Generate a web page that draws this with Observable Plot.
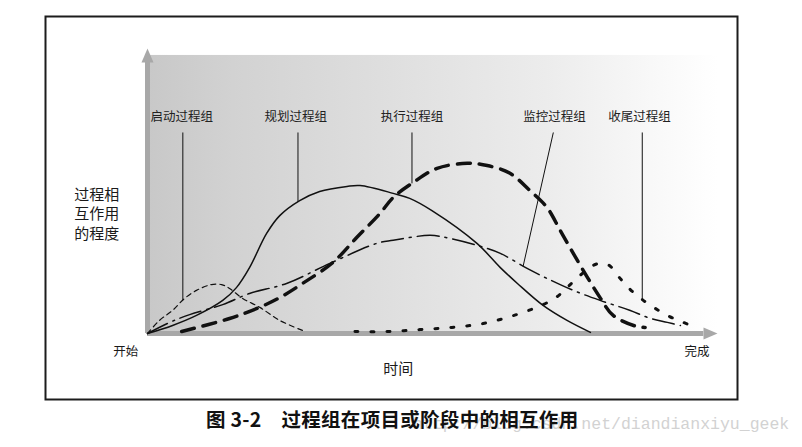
<!DOCTYPE html>
<html>
<head>
<meta charset="utf-8">
<script src="https://cdn.jsdelivr.net/npm/d3@7"></script>
<script src="https://cdn.jsdelivr.net/npm/@observablehq/plot@0.6"></script>
<style>
html, body { margin: 0; padding: 0; background: #fff; }
#wrap { position: relative; width: 802px; height: 447px; overflow: hidden; font-family: "Noto Sans CJK SC", "Noto Sans", sans-serif; }
#chart svg { display: block; }
#caption { position: absolute; left: 206px; top: 407px; font-size: 19.5px; letter-spacing: 0.3px; line-height: 24px; font-weight: bold; color: #111; white-space: pre; z-index: 2; }
#watermark { position: absolute; left: 413px; top: 417px; font-family: "Liberation Mono", monospace; font-size: 16.5px; line-height: 16.5px; color: #d2d2d2; white-space: pre; z-index: 1; }
</style>
</head>
<body>
<div id="wrap">
  <div id="chart"></div>
  <div id="watermark">http://blog.csdn.net/diandianxiyu_geek</div>
  <div id="caption">图 3-2　过程组在项目或阶段中的相互作用</div>
</div>
<script>
// ---- data: [time, level of interaction] ----
const initiating = [[0,0],[2.1,4.7],[4.4,8.3],[6.5,12.6],[8.6,15.5],[11.2,17.6],[13.0,17.6],[14.4,16.2],[16.7,12.6],[19.7,9.4],[23.2,4.7],[27.2,1.1]];
const planning = [[0,0],[4.4,2.9],[8.6,6.5],[13.2,11.9],[15.6,16.5],[17.9,23.7],[20.9,36.0],[23.2,42.4],[26.7,47.8],[30.2,51.1],[35.0,52.9],[37.3,53.2],[43.1,50.4],[46.0,48.6],[49.9,44.2],[57.8,32.4],[61.9,23.7],[64.9,18.0],[69.4,10.1],[73.6,4.7],[77.7,0.4]];
const executing = [[6.0,0.7],[14.4,5.4],[19.2,9.0],[23.2,12.9],[27.2,18.0],[32.5,25.5],[36.7,34.5],[40.8,43.2],[43.1,48.9],[46.6,54.3],[50.8,59.4],[56.1,61.2],[59.6,60.4],[63.6,57.6],[67.1,51.4],[70.1,45.3],[72.4,37.1],[74.7,28.8],[77.2,20.1],[79.4,12.9],[81.7,6.5],[85.9,2.5],[87.3,2.2]];
const monitoring = [[0,0],[3.9,4.0],[7.4,6.8],[13.2,10.4],[17.9,14.4],[24.4,18.0],[32.0,25.2],[40.2,32.4],[43.1,33.5],[49.6,35.3],[53.1,34.2],[57.8,31.7],[61.9,28.8],[66.6,23.4],[70.1,19.8],[74.7,15.5],[79.4,11.9],[84.7,8.3],[87.7,5.8],[91.2,4.0],[93.5,2.9]];
const closing = [[36.4,0.7],[42.0,0.7],[47.8,1.4],[53.4,2.2],[58.9,3.6],[64.3,6.5],[69.4,10.4],[71.9,13.3],[73.8,16.9],[75.9,20.9],[78.2,24.5],[79.4,25.2],[81.0,24.5],[82.8,20.1],[84.7,15.8],[86.8,12.2],[89.1,9.0],[91.6,6.1],[94.0,4.0],[96.7,1.8]];

const groupNames = ["启动过程组", "规划过程组", "执行过程组", "监控过程组", "收尾过程组"];
const labelTime = [6.0, 26.0, 46.4, 71.4, 86.3];
const leaderTopTime = [6.2, 26.4, 46.4, 71.2, 86.8];
const leaderTime = [6.2, 26.4, 46.4, 65.9, 86.8];
const groupSeries = [initiating, planning, executing, monitoring, closing];

const yTitle = "过程相\n互作用\n的程度";
const xTitle = "时间";
const startLabel = "开始";
const endLabel = "完成";

// ---- helpers ----
function valueAt(series, t) {
  for (let i = 1; i < series.length; i++) {
    const [x0, y0] = series[i - 1], [x1, y1] = series[i];
    if (t >= x0 && t <= x1) return y0 + (y1 - y0) * (t - x0) / (x1 - x0);
  }
  return 0;
}
const labelY = 77.7, leaderTopY = 72.3;
const labels = groupNames.map((name, i) => ({name, t: labelTime[i]}));
const leaders = groupNames.map((name, i) => ({
  x1: leaderTopTime[i], y1: leaderTopY,
  x2: leaderTime[i], y2: valueAt(groupSeries[i], leaderTime[i])
}));

const axisGray = "#a8a8a8";
const arrowRight = {draw(ctx) { ctx.moveTo(0, 0); ctx.lineTo(-14, -6); ctx.lineTo(-14, 6); ctx.closePath(); }};
const arrowUp = {draw(ctx) { ctx.moveTo(0, 0); ctx.lineTo(-6, 14); ctx.lineTo(6, 14); ctx.closePath(); }};

const px = d => d[0], py = d => d[1];
const ink = "#111";

const chart = Plot.plot({
  width: 802,
  height: 402,
  marginLeft: 45, marginTop: 16, marginRight: 65, marginBottom: 3,
  x: {domain: [0, 100], range: [147, 717], axis: null},
  y: {domain: [0, 102.5], range: [333, 48], axis: null},
  style: {fontFamily: "'Noto Sans CJK SC', 'Noto Sans', sans-serif", background: "transparent"},
  marks: [
    Plot.rect([{x1: 0, x2: 100, y1: 0, y2: 100}], {x1: "x1", x2: "x2", y1: "y1", y2: "y2", fill: "url(#bg-grad)"}),
    Plot.frame({stroke: "#1c1c1c", strokeWidth: 2}),
    // axes with arrowheads
    Plot.ruleY([0], {x1: 0, x2: 97.6, stroke: axisGray, strokeWidth: 5}),
    Plot.ruleX([0], {y1: 0, y2: 97.5, stroke: axisGray, strokeWidth: 5}),
    Plot.dot([{x: 100, y: 0}], {x: "x", y: "y", symbol: arrowRight, fill: axisGray, stroke: "none"}),
    Plot.dot([{x: 0, y: 102.5}], {x: "x", y: "y", symbol: arrowUp, fill: axisGray, stroke: "none"}),
    // curves
    Plot.line(initiating, {x: px, y: py, curve: "catmull-rom", stroke: ink, strokeWidth: 1.2, strokeDasharray: "5,4"}),
    Plot.line(planning, {x: px, y: py, curve: "catmull-rom", stroke: ink, strokeWidth: 1.5}),
    Plot.line(monitoring, {x: px, y: py, curve: "catmull-rom", stroke: ink, strokeWidth: 1.5, strokeDasharray: "22,6,2,6"}),
    Plot.line(executing, {x: px, y: py, curve: "catmull-rom", stroke: ink, strokeWidth: 3.5, strokeDasharray: "13,9"}),
    Plot.line(closing, {x: px, y: py, curve: "catmull-rom", stroke: ink, strokeWidth: 3, strokeDasharray: "3,13"}),
    // leaders and labels
    Plot.link(leaders, {x1: "x1", y1: "y1", x2: "x2", y2: "y2", stroke: ink, strokeWidth: 1}),
    Plot.text(labels, {x: "t", y: labelY, text: "name", fontSize: 12.5, fill: "#222"}),
    Plot.text([yTitle], {x: -8.9, y: 43.2, text: d => d, fontSize: 15, lineHeight: 1.27, fill: "#1a1a1a"}),
    Plot.text([startLabel], {x: -3.8, y: -6.8, text: d => d, fontSize: 12.5, fill: "#1a1a1a"}),
    Plot.text([endLabel], {x: 96.4, y: -6.8, text: d => d, fontSize: 12.5, fill: "#1a1a1a"}),
    Plot.text([xTitle], {x: 44.0, y: -12.9, text: d => d, fontSize: 15, fill: "#1a1a1a"})
  ]
});

// gradient definition for the background
const ns = "http://www.w3.org/2000/svg";
const defs = document.createElementNS(ns, "defs");
const grad = document.createElementNS(ns, "linearGradient");
grad.setAttribute("id", "bg-grad");
grad.setAttribute("x1", "0"); grad.setAttribute("x2", "1");
grad.setAttribute("y1", "0"); grad.setAttribute("y2", "0");
[[0, "#c8c8c8"], [0.15, "#d2d2d2"], [0.45, "#e0e0e0"], [0.7, "#ececec"], [0.9, "#f9f9f9"], [1, "#ffffff"]].forEach(([o, c]) => {
  const s = document.createElementNS(ns, "stop");
  s.setAttribute("offset", o);
  s.setAttribute("stop-color", c);
  grad.appendChild(s);
});
defs.appendChild(grad);
chart.insertBefore(defs, chart.firstChild);

document.getElementById("chart").appendChild(chart);
</script>
</body>
</html>
